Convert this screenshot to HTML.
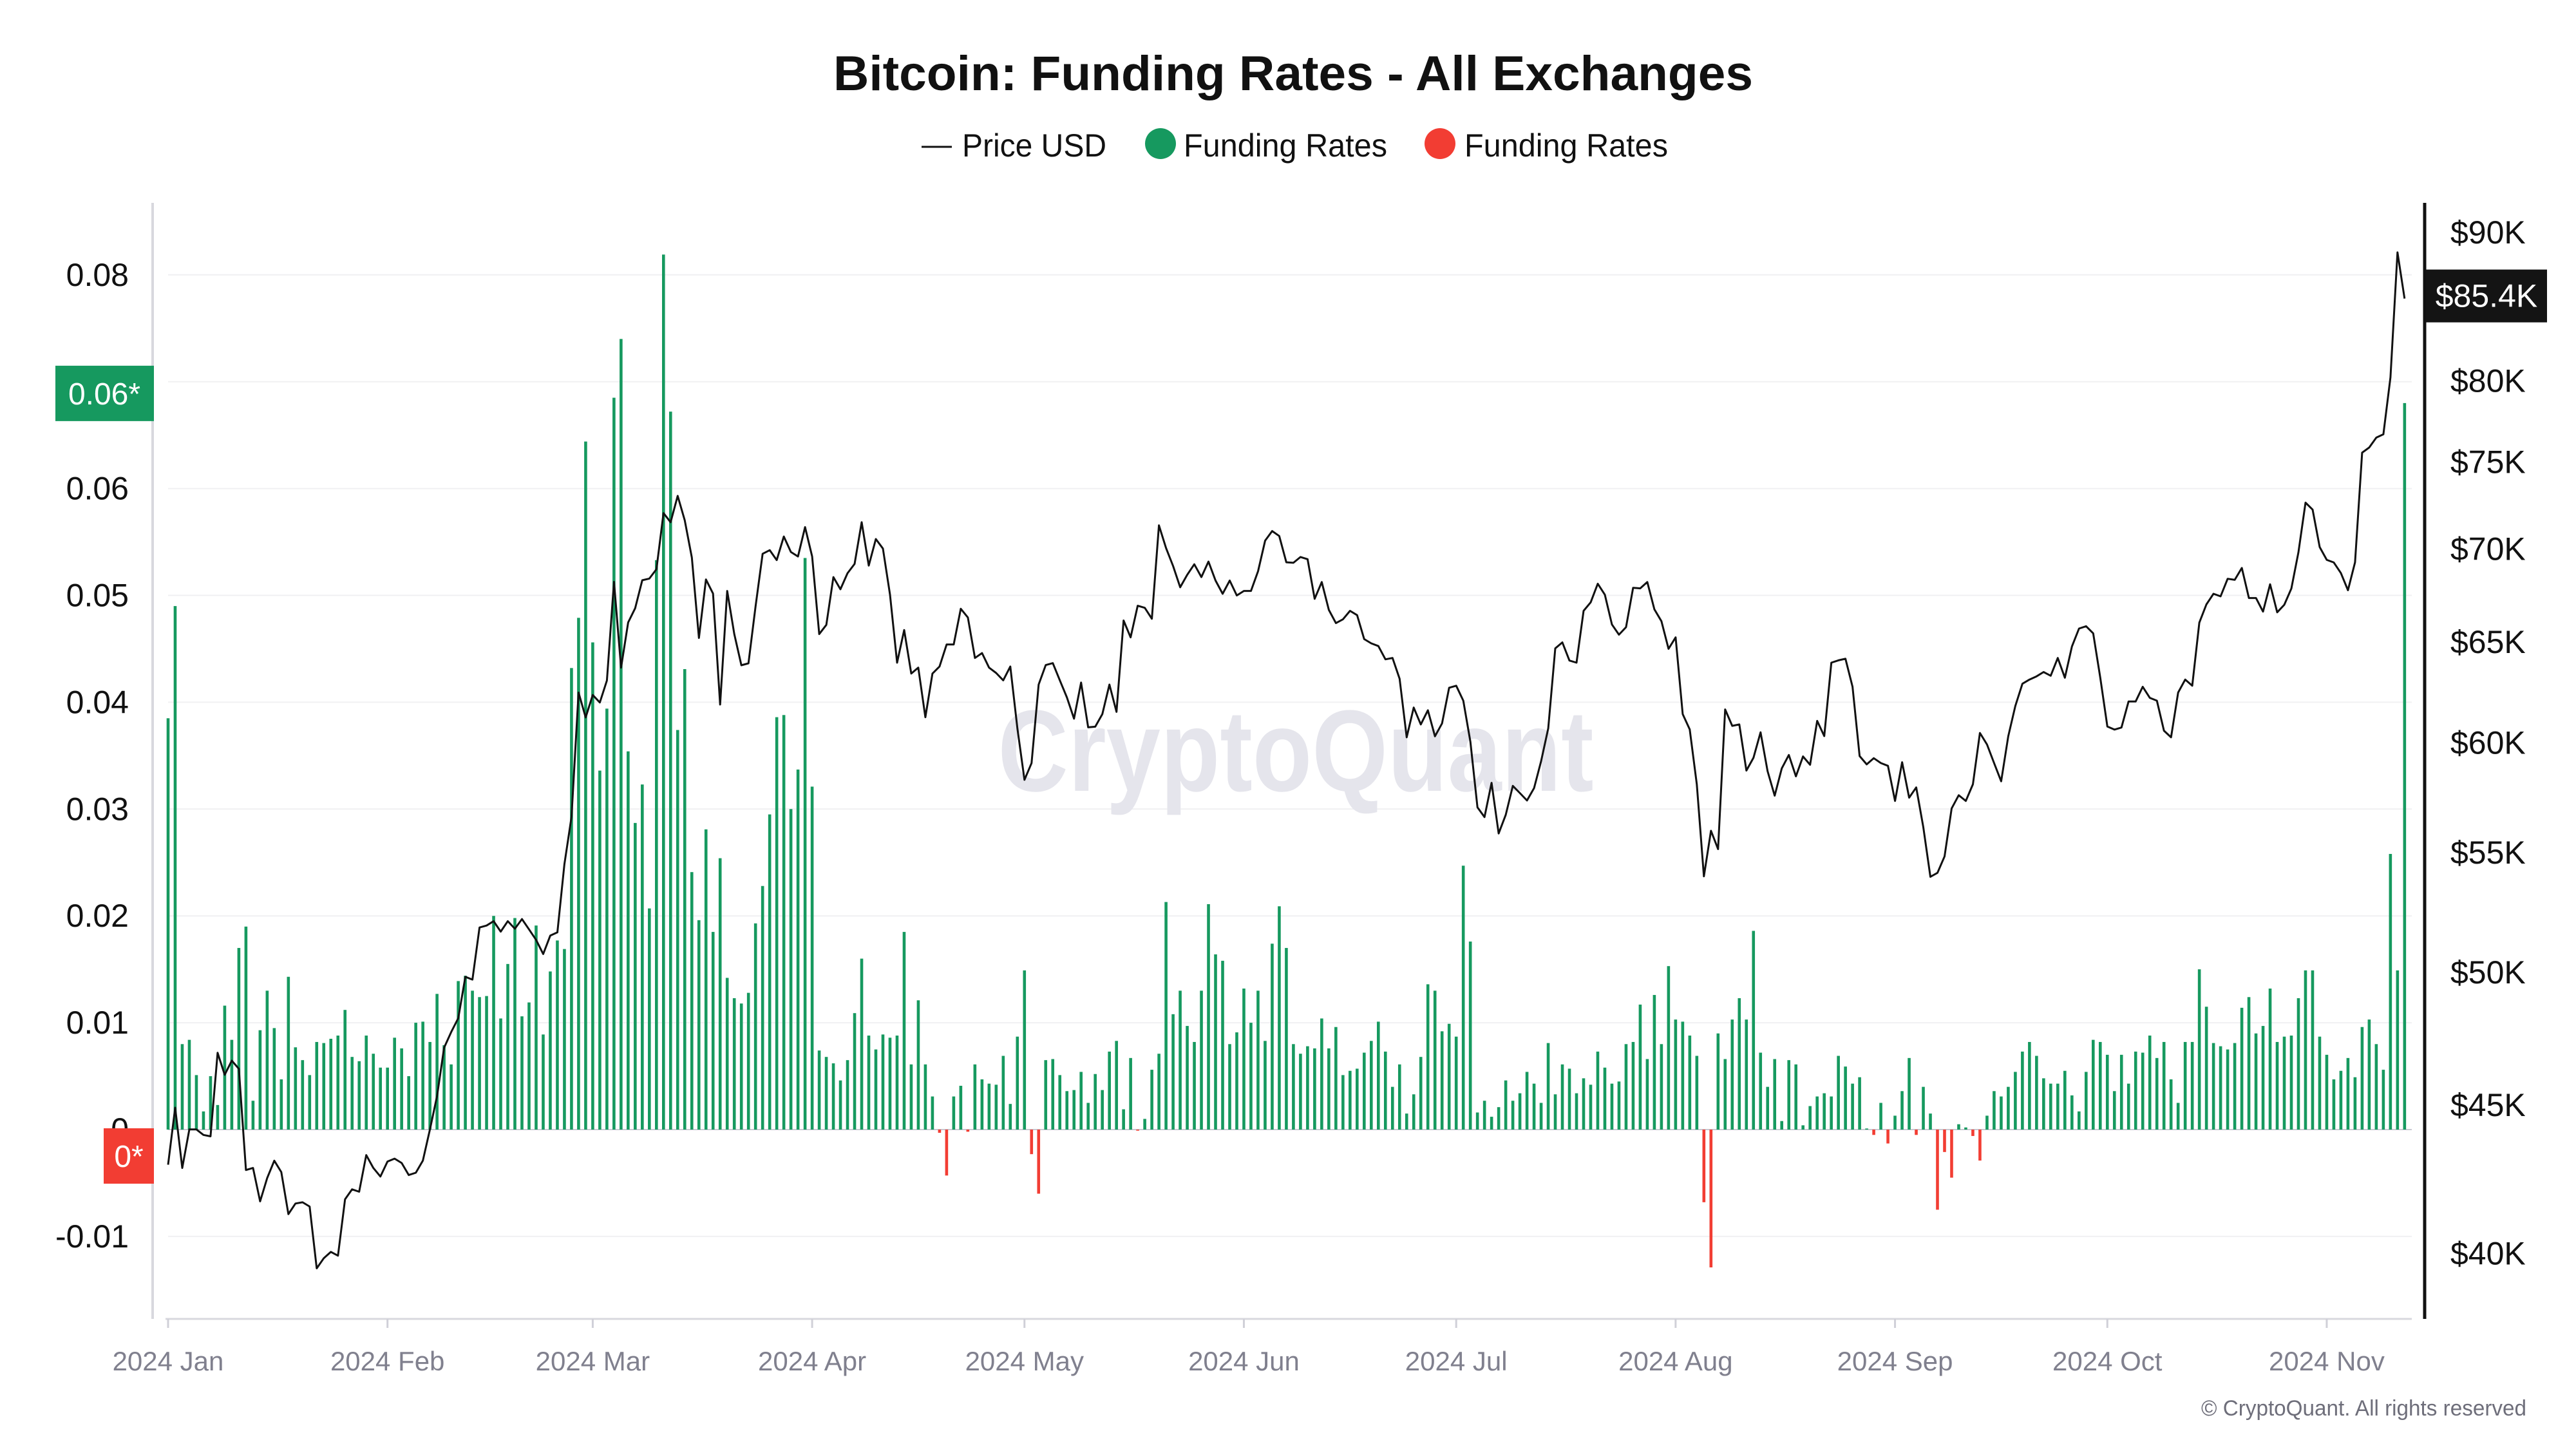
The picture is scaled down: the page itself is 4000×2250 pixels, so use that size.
<!DOCTYPE html>
<html><head><meta charset="utf-8"><title>Bitcoin: Funding Rates - All Exchanges</title>
<style>
html,body{margin:0;padding:0;background:#fff;}
svg{display:block;font-family:"Liberation Sans",Arial,sans-serif;}
</style></head>
<body>
<svg id="chart" width="4000" height="2250" viewBox="0 0 4000 2250" xmlns="http://www.w3.org/2000/svg">
  <rect x="0" y="0" width="4000" height="2250" fill="#ffffff"/>
  <text x="2008" y="140" text-anchor="middle" font-size="76" font-weight="bold" fill="#111" textLength="1428" lengthAdjust="spacingAndGlyphs">Bitcoin: Funding Rates - All Exchanges</text>
  <g>
    <g>
      <line x1="1431" y1="228" x2="1478" y2="228" stroke="#111" stroke-width="3"/>
      <text x="1494" y="243" font-size="50" fill="#111" textLength="224" lengthAdjust="spacingAndGlyphs">Price USD</text>
    </g>
    <g>
      <circle cx="1802" cy="223" r="24" fill="#16995f"/>
      <text x="1838" y="243" font-size="50" fill="#111" textLength="316" lengthAdjust="spacingAndGlyphs">Funding Rates</text>
    </g>
    <g>
      <circle cx="2236" cy="223" r="24" fill="#f23d33"/>
      <text x="2274" y="243" font-size="50" fill="#111" textLength="316" lengthAdjust="spacingAndGlyphs">Funding Rates</text>
    </g>
  </g>
  <g id="grid"></g>
  <text x="2012" y="1228" text-anchor="middle" font-size="180" font-weight="bold" fill="#e5e5ec" textLength="925" lengthAdjust="spacingAndGlyphs">CryptoQuant</text>
  <g id="bars"></g>
  <g id="priceg"></g>
  <g id="axes"></g>
  <text x="3923" y="2198" text-anchor="end" font-size="34" fill="#6e6e7a" textLength="505" lengthAdjust="spacingAndGlyphs">© CryptoQuant. All rights reserved</text>
</svg>
<script>
const tickLabels=["2024 Jan","2024 Feb","2024 Mar","2024 Apr","2024 May","2024 Jun","2024 Jul","2024 Aug","2024 Sep","2024 Oct","2024 Nov"];
const tickDays=[0,31,60,91,121,152,182,213,244,274,305];
const leftTicks=[-0.01,0,0.01,0.02,0.03,0.04,0.05,0.06,0.08];
const leftTickLabels=["-0.01","0","0.01","0.02","0.03","0.04","0.05","0.06","0.08"];
const gridValues=[-0.01,0,0.01,0.02,0.03,0.04,0.05,0.06,0.07,0.08];
const rightTicks=[40000,45000,50000,55000,60000,65000,70000,75000,80000,90000];
const rightTickLabels=["$40K","$45K","$50K","$55K","$60K","$65K","$70K","$75K","$80K","$90K"];
const fundingRates=[
.0385,.049,.008,.0084,.0051,.0017,.005,.0023,.0116,.0084,
.017,.019,.0027,.0093,.013,.0095,.0047,.0143,.0077,.0065,
.0051,.0082,.0081,.0085,.0088,.0112,.0068,.0064,.0088,.0071,
.0058,.0058,.0086,.0076,.005,.01,.0101,.0082,.0127,.0079,
.0061,.0139,.0144,.013,.0124,.0125,.02,.0104,.0155,.0198,
.0106,.0119,.0191,.0089,.0148,.0177,.0169,.0432,.0479,.0644,
.0456,.0336,.0394,.0685,.074,.0354,.0287,.0323,.0207,.0533,
.0819,.0672,.0374,.0431,.0241,.0196,.0281,.0185,.0254,.0142,
.0123,.0118,.0128,.0193,.0228,.0295,.0386,.0388,.03,.0337,
.0535,.0321,.0074,.0068,.0062,.0046,.0065,.0109,.016,.0088,
.0075,.0089,.0086,.0088,
.0185,.0061,.0121,.0061,.0031,-.0003,-.0043,.0031,.0041,-.0002,
.0061,.0047,.0043,.0042,.0069,.0024,.0087,.0149,-.0023,-.006,
.0065,.0066,.0051,.0036,.0037,.0054,.0025,.0052,.0037,.0073,
.0083,.0019,.0067,-.0001,.001,.0056,.0071,.0213,.0108,.013,
.0097,.0082,.013,.0211,.0164,.0158,.008,.0091,.0132,.01,
.013,.0083,.0174,.0209,.017,
.008,.0071,.0078,.0076,.0104,.0076,.0096,.0051,.0055,.0057,
.0072,.0083,.0101,.0073,.004,.0061,.0015,.0033,.0068,.0136,
.013,.0092,.0099,.0087,.0247,.0176,.0016,.0027,.0012,.0021,
.0046,.0027,.0034,.0054,.0043,.0025,.0081,.0033,.0061,.0057,
.0034,.0048,.0042,.0073,.0058,.0043,.0045,.008,.0082,.0117,
.0066,.0126,.008,.0153,.0103,
.0101,.0088,.0069,-.0068,-.0129,.009,.0066,.0103,.0123,.0103,
.0186,.0072,.004,.0066,.0008,.0065,.0061,.0004,.0022,.0031,
.0034,.0031,.0069,.0059,.0043,.0049,.0001,-.0005,.0025,-.0013,
.0013,.0036,.0067,-.0005,.004,.0015,-.0075,-.0021,-.0045,.0005,
.0002,-.0006,-.0029,.0013,.0036,.0031,.004,.0054,.0073,.0082,
.0069,.0048,.0043,.0043,
.0055,.0032,.0017,.0054,.0084,.0082,.007,.0036,.007,.0043,
.0073,.0072,.0088,.0067,.0082,.0047,.0025,.0082,.0082,.015,
.0115,.0081,.0078,.0075,.0081,.0114,.0124,.009,.0097,.0132,
.0082,.0087,.0088,.0123,.0149,.0149,.0087,.007,.0047,.0055,
.0067,.0049,.0096,.0103,.008,.0056,.0258,.0149,.068];
const priceUSD=[
42920,44910,42810,44140,44140,43950,43900,46910,46100,46620,
46320,42740,42810,41690,42470,43060,42670,41270,41620,41660,
41520,39530,39850,40050,39930,41760,42090,42010,43250,42810,
42520,43030,43130,42980,42570,42650,43060,44140,45320,47100,
47690,48220,49830,49720,51820,51900,52080,51650,52080,51770,
52170,51740,51310,50740,51490,51620,54490,56570,62450,61230,
62330,61960,63050,68190,63700,66030,66780,68280,68370,68880,
72020,71500,73010,71600,69520,65220,68320,67560,61860,67700,
65420,63820,63920,66870,69730,69930,69380,70690,69830,69580,
71220,69580,65420,65900,68450,67790,68660,69170,71500,69080,
70550,70020,
67500,63950,65630,63400,63700,61240,63400,63760,64880,64880,
66750,66290,64190,64440,63700,63430,63060,63760,60700,58270,
59050,62850,63830,63930,63060,62210,61170,62950,60750,60780,
61390,62850,61500,66130,65250,66910,66800,66220,71320,70050,
69050,67900,68580,69150,68450,69300,68260,67550,68260,67460,
67700,67700,68770,70460,71000,70720,69260,
69230,69550,69430,67280,68180,66690,65990,66190,66640,66410,
65160,64940,64800,64120,64190,63140,60270,61710,60890,61580,
60320,60940,62690,62790,62050,60060,57010,56570,58130,55840,
56670,57990,57660,57320,57890,59150,60700,64680,64990,64060,
63950,66640,67090,68090,67500,65920,65390,65780,67870,67840,
68180,66720,66090,64660,65250,
61390,60650,58060,53970,55960,55150,61620,60820,60890,58700,
59300,60510,58670,57540,58800,59430,58430,59360,58970,61060,
60330,63950,64070,64150,62740,59380,58990,59280,59050,58920,
57300,59090,57450,57920,56120,53950,54120,54830,56960,57560,
57300,58060,60480,59930,59050,58200,60320,61790,62890,63100,
63260,63480,63290,64190,63190,
64780,65710,65830,65460,63190,60790,60640,60740,62010,62010,
62740,62190,62050,60590,60270,62450,63100,62790,66020,66980,
67550,67410,68360,68300,68950,67320,67320,66600,68060,66560,
66960,67830,69810,72620,72220,70100,69390,69250,68670,67740,
69260,75560,
75870,76470,76670,80220,88590,85400];

const NS="http://www.w3.org/2000/svg";
const PL=261, PR=3745, DX=10.99, Y0=1754, YPER=16590;
function xScale(d){return PL+d*DX;}
function yLeft(v){return Y0-v*YPER;}
function yRight(p){return 361+Math.log(90000/p)*1955;}
function mk(tag,attrs,parent){const e=document.createElementNS(NS,tag);for(const k in attrs)e.setAttribute(k,attrs[k]);parent.appendChild(e);return e;}
const grid=document.getElementById('grid'), bars=document.getElementById('bars'), pg=document.getElementById('priceg'), axes=document.getElementById('axes');

gridValues.forEach(v=>{
  const l=mk('line',{x1:PL,x2:PR,y1:yLeft(v),y2:yLeft(v),stroke:v===0?'#c9c9d2':'#f0f0f2','stroke-width':v===0?2:2},grid);
  
  
});

fundingRates.forEach((v,i)=>{
  const y1=yLeft(Math.max(v,0)), y2=yLeft(Math.min(v,0));
  const r=mk('rect',{x:xScale(i)-2.3,y:y1,width:4.6,height:Math.max(y2-y1,1),fill:v>=0?'#16995f':'#f23d33'},bars);
  
  
});

let d='';
priceUSD.forEach((p,i)=>{d+=(i?'L':'M')+xScale(i).toFixed(1)+' '+yRight(p).toFixed(1);});
const path=mk('path',{d:d,fill:'none',stroke:'#111','stroke-width':3,'stroke-linejoin':'round'},pg);



// axes lines
const la=mk('line',{x1:237,x2:237,y1:315,y2:2048,stroke:'#d8d8de','stroke-width':4},axes);


const xa=mk('line',{x1:PL-4,x2:PR,y1:2048,y2:2048,stroke:'#d8d8de','stroke-width':3},axes);


const ra=mk('line',{x1:3765,x2:3765,y1:315,y2:2048,stroke:'#111','stroke-width':5},axes);



tickDays.forEach((td,i)=>{
  const x=xScale(td);
  const t=mk('line',{x1:x,x2:x,y1:2048,y2:2062,stroke:'#d0d0d8','stroke-width':3},axes);
  
  
  const lb=mk('text',{x:x,y:2128,'text-anchor':'middle','font-size':42,fill:'#80808e'},axes);
  lb.textContent=tickLabels[i];
  
  
});
leftTicks.forEach((v,i)=>{
  const lb=mk('text',{x:200,y:yLeft(v)+17,'text-anchor':'end','font-size':50,fill:'#111'},axes);
  lb.textContent=leftTickLabels[i];
  
  
});
rightTicks.forEach((p,i)=>{
  const lb=mk('text',{x:3805,y:yRight(p)+17,'font-size':50,fill:'#111'},axes);
  lb.textContent=rightTickLabels[i];
  
  
});
// latest value markers
const lastRate=fundingRates[fundingRates.length-1];
const gy=yLeft(lastRate)-15;
const gb=mk('rect',{x:86,y:gy-43,width:153,height:86,fill:'#16995f'},axes);


const gt=mk('text',{x:162,y:gy+17,'text-anchor':'middle','font-size':48,fill:'#fff'},axes);
gt.textContent=(Math.floor(lastRate*100)/100).toFixed(2)+'*';


const rb=mk('rect',{x:161,y:1752,width:78,height:86,fill:'#f23d33'},axes);


const rt=mk('text',{x:200,y:1812,'text-anchor':'middle','font-size':48,fill:'#fff'},axes);
rt.textContent='0*';


const lastP=priceUSD[priceUSD.length-1];
const py=yRight(lastP)-4;
const pb=mk('rect',{x:3767,y:py-41,width:188,height:82,fill:'#141414'},axes);


const pt=mk('text',{x:3861,y:py+17,'text-anchor':'middle','font-size':50,fill:'#fff'},axes);
pt.textContent='$'+(lastP/1000).toFixed(1)+'K';


</script>
</body></html>
